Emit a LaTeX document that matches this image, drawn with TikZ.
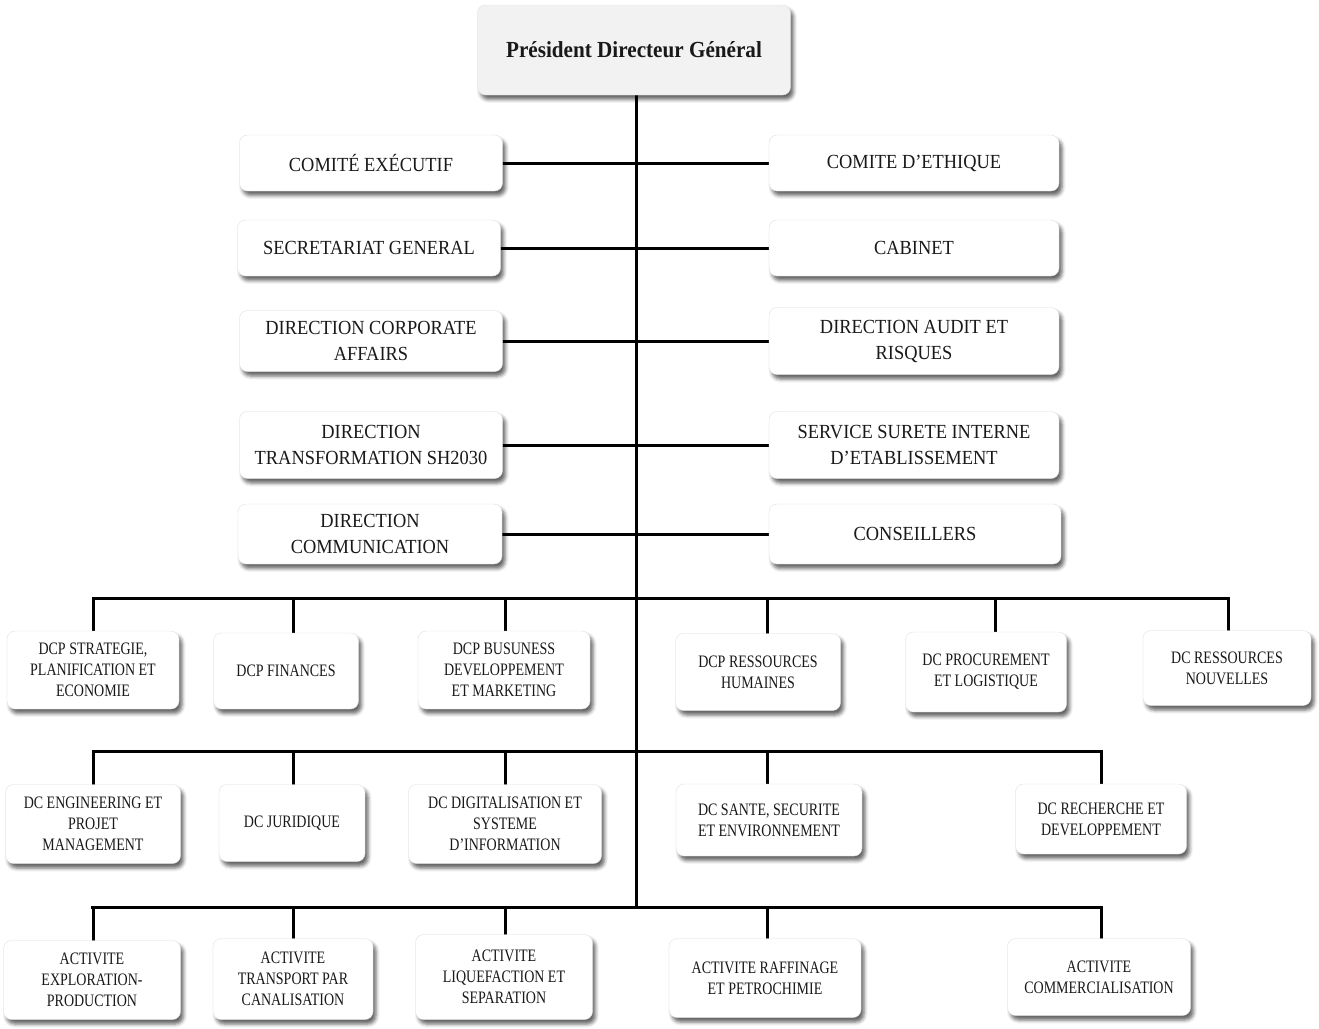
\documentclass[tikz,border=0pt]{standalone}
\usepackage{fontspec}
\setmainfont{Liberation Serif}
\newfontfamily\haut{Liberation Serif}[FakeStretch=0.92]
\newfontfamily\bas{Liberation Serif}[FakeStretch=0.80]
\usetikzlibrary{shadows.blur, backgrounds}

\begin{document}
\begin{tikzpicture}[x=1pt, y=-1pt,
  boite/.style={draw=gray!25, line width=0.4pt, fill=white, rounded corners=8pt,
    align=center, inner sep=0pt, text=black!90,
    blur shadow={shadow xshift=3pt, shadow yshift=-4.5pt, shadow blur radius=3.5pt, shadow opacity=60}},
  haute/.style={boite, font=\haut\fontsize{20}{26}\selectfont},
  basse/.style={boite, font=\bas\fontsize{17.5}{21}\selectfont},
  lien/.style={line width=3pt, line cap=rect}]

\useasboundingbox (0,0) rectangle (1319,1028);

% PDG
\node[boite, fill=gray!10, minimum width=313pt, minimum height=90pt,
  font=\haut\bfseries\fontsize{23}{26}\selectfont] (pdg) at (634,50) {Président Directeur Général};

% Colonne gauche
\node[haute, minimum width=263pt, minimum height=56pt] (ce)   at (371,163) {COMITÉ EXÉCUTIF};
\node[haute, minimum width=263pt, minimum height=56pt] (sg)   at (369,248) {SECRETARIAT GENERAL};
\node[haute, minimum width=263pt, minimum height=61pt] (dca)  at (371,341) {DIRECTION CORPORATE\\AFFAIRS};
\node[haute, minimum width=263pt, minimum height=67pt] (dt)   at (371,445) {DIRECTION\\TRANSFORMATION SH2030};
\node[haute, minimum width=264pt, minimum height=60pt] (dcom) at (370,534) {DIRECTION\\COMMUNICATION};

% Colonne droite
\node[haute, minimum width=290pt, minimum height=56pt] (cet)  at (914,163) {COMITE D’ETHIQUE};
\node[haute, minimum width=290pt, minimum height=56pt] (cab)  at (914,248) {CABINET};
\node[haute, minimum width=290pt, minimum height=67pt] (dar)  at (914,341) {DIRECTION AUDIT ET\\RISQUES};
\node[haute, minimum width=290pt, minimum height=67pt] (ssi)  at (914,445) {SERVICE SURETE INTERNE\\D’ETABLISSEMENT};
\node[haute, minimum width=292pt, minimum height=60pt] (cons) at (915,534) {CONSEILLERS};

% Niveaux
\coordinate (r1) at (636,598);
\coordinate (r2) at (636,751);
\coordinate (r3) at (636,907);

% Rangee 1
\node[basse, minimum width=172pt, minimum height=78pt] (b11) at (93,670)    {DCP STRATEGIE,\\PLANIFICATION ET\\ECONOMIE};
\node[basse, minimum width=145pt, minimum height=76pt] (b12) at (286,671)   {DCP FINANCES};
\node[basse, minimum width=172pt, minimum height=78pt] (b13) at (504,670)   {DCP BUSUNESS\\DEVELOPPEMENT\\ET MARKETING};
\node[basse, minimum width=165pt, minimum height=77pt] (b14) at (758,672)   {DCP RESSOURCES\\HUMAINES};
\node[basse, minimum width=161pt, minimum height=80pt] (b15) at (986,672)   {DC PROCUREMENT\\ET LOGISTIQUE};
\node[basse, minimum width=168pt, minimum height=75pt] (b16) at (1227,668)  {DC RESSOURCES\\NOUVELLES};

% Rangee 2
\node[basse, minimum width=175pt, minimum height=79pt] (b21) at (93,824)    {DC ENGINEERING ET\\PROJET\\MANAGEMENT};
\node[basse, minimum width=146pt, minimum height=77pt] (b22) at (292,823)   {DC JURIDIQUE};
\node[basse, minimum width=193pt, minimum height=79pt] (b23) at (505,824)   {DC DIGITALISATION ET\\SYSTEME\\D’INFORMATION};
\node[basse, minimum width=186pt, minimum height=72pt] (b24) at (769,820)   {DC SANTE, SECURITE\\ET ENVIRONNEMENT};
\node[basse, minimum width=171pt, minimum height=70pt] (b25) at (1101,819)  {DC RECHERCHE ET\\DEVELOPPEMENT};

% Rangee 3
\node[basse, minimum width=177pt, minimum height=79pt] (b31) at (92,980)    {ACTIVITE\\EXPLORATION-\\PRODUCTION};
\node[basse, minimum width=160pt, minimum height=81pt] (b32) at (293,979)   {ACTIVITE\\TRANSPORT PAR\\CANALISATION};
\node[basse, minimum width=177pt, minimum height=85pt] (b33) at (504,977)   {ACTIVITE\\LIQUEFACTION ET\\SEPARATION};
\node[basse, minimum width=192pt, minimum height=79pt] (b34) at (765,978)   {ACTIVITE RAFFINAGE\\ET PETROCHIMIE};
\node[basse, minimum width=183pt, minimum height=77pt] (b35) at (1099,977)  {ACTIVITE\\COMMERCIALISATION};

\begin{scope}[on background layer]
% Tronc
\draw[lien] (pdg.south -| r3) -- (r3);

% Liaisons laterales
\foreach \g/\d in {ce/cet, sg/cab, dca/dar, dt/ssi, dcom/cons}
  \draw[lien] (\g.east) -- (\g.east -| \d.west);

% Barres horizontales
\draw[lien] (b11.north |- r1) -- (b16.north |- r1);
\draw[lien] (b21.north |- r2) -- (b25.north |- r2);
\draw[lien] (b31.north |- r3) -- (b35.north |- r3);

% Descentes
\foreach \n/\x in {b11/93, b12/293, b13/505, b14/767, b15/995, b16/1228}
  \draw[lien] (\x,598) coordinate (p) -- (p |- \n.north);
\foreach \n/\x in {b21/93, b22/293, b23/505, b24/767, b25/1101}
  \draw[lien] (\x,751) coordinate (p) -- (p |- \n.north);
\foreach \n/\x in {b31/93, b32/293, b33/505, b34/767, b35/1101}
  \draw[lien] (\x,907) coordinate (p) -- (p |- \n.north);
\end{scope}

\end{tikzpicture}
\end{document}
